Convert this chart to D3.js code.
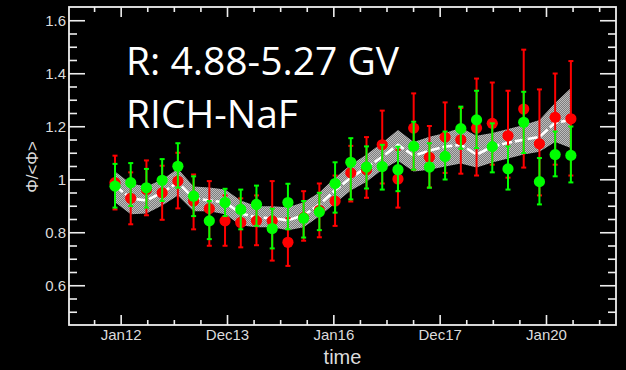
<!DOCTYPE html>
<html>
<head>
<meta charset="utf-8">
<script src="https://cdn.jsdelivr.net/npm/d3@7"></script>
<style>
  html, body { margin: 0; padding: 0; background: #000; }
  svg { display: block; }
  .tick text { fill: #dcdcdc; font-family: 'Liberation Sans', Arial, sans-serif; font-size: 15px; }
  .tick line { stroke: #eeeeee; stroke-width: 1.6; }
</style>
</head>
<body>
<svg id="chart" width="626" height="370"></svg>
<script>
// time bins (4 Bartels rotations each)
const dates = [
  '2011-11-23', '2012-03-10', '2012-06-26', '2012-10-12', '2013-01-28', '2013-05-16',
  '2013-09-01', '2013-12-18', '2014-04-05', '2014-07-22', '2014-11-07', '2015-02-23',
  '2015-06-11', '2015-09-27', '2016-01-13', '2016-04-30', '2016-08-16', '2016-12-02',
  '2017-03-20', '2017-07-06', '2017-10-22', '2018-02-07', '2018-05-26', '2018-09-11',
  '2018-12-28', '2019-04-15', '2019-08-01', '2019-11-17', '2020-03-04', '2020-06-20'
];

// red series
const redVal = [0.987, 0.928, 0.961, 0.949, 0.993, 0.918, 0.889, 0.843, 0.837, 0.843, 0.843, 0.762,
  0.855, 0.883, 0.918, 1.024, 1.036, 1.130, 1.001, 1.193, 1.083, 1.159, 1.149, 1.193,
  1.211, 1.164, 1.265, 1.134, 1.234, 1.228];
const redHi = [1.089, 1.026, 1.071, 1.051, 1.100, 1.018, 0.993, 0.939, 0.928, 0.939, 0.993, 0.853,
  0.955, 0.984, 1.014, 1.126, 1.159, 1.259, 1.111, 1.324, 1.201, 1.290, 1.269, 1.380,
  1.365, 1.334, 1.489, 1.339, 1.399, 1.446];
const redLo = [0.886, 0.830, 0.864, 0.847, 0.890, 0.811, 0.749, 0.749, 0.743, 0.751, 0.693, 0.673,
  0.768, 0.781, 0.824, 0.916, 0.930, 0.984, 0.893, 1.036, 0.969, 1.024, 1.021, 1.014,
  1.055, 1.006, 1.044, 0.939, 1.055, 1.014];

// green series
const greenVal = [0.974, 0.987, 0.968, 0.996, 1.049, 0.936, 0.843, 0.912, 0.886, 0.905, 0.814, 0.912,
  0.853, 0.877, 0.984, 1.064, 1.046, 1.048, 1.036, 1.124, 1.046, 1.086, 1.191, 1.224,
  1.123, 1.039, 1.215, 0.991, 1.093, 1.090];
const greenHi = [1.058, 1.061, 1.039, 1.076, 1.136, 1.011, 0.918, 0.964, 0.961, 0.976, 0.889, 0.983,
  0.918, 0.949, 1.064, 1.155, 1.124, 1.130, 1.123, 1.217, 1.136, 1.180, 1.274, 1.334,
  1.211, 1.124, 1.330, 1.080, 1.180, 1.199];
const greenLo = [0.893, 0.899, 0.893, 0.918, 0.968, 0.861, 0.774, 0.861, 0.811, 0.824, 0.739, 0.811,
  0.780, 0.808, 0.874, 0.924, 0.965, 0.961, 0.955, 1.036, 0.968, 0.999, 1.115, 1.118,
  1.026, 0.961, 1.099, 0.905, 1.011, 0.988];

// model curve with its uncertainty band
const modelVal = [0.976, 0.928, 0.920, 0.950, 0.988, 0.928, 0.920, 0.913, 0.871, 0.856, 0.853, 0.845,
  0.864, 0.905, 0.958, 1.006, 1.044, 1.085, 1.130, 1.089, 1.108, 1.123, 1.130, 1.093,
  1.123, 1.138, 1.149, 1.160, 1.213, 1.224];
const modelHi = [1.029, 0.984, 0.973, 0.999, 1.040, 0.973, 0.969, 0.961, 0.920, 0.898, 0.898, 0.894,
  0.913, 0.950, 1.006, 1.055, 1.093, 1.138, 1.186, 1.141, 1.160, 1.175, 1.194, 1.164,
  1.175, 1.190, 1.205, 1.224, 1.288, 1.344];
const modelLo = [0.913, 0.868, 0.871, 0.901, 0.939, 0.879, 0.879, 0.868, 0.826, 0.819, 0.819, 0.808,
  0.819, 0.860, 0.909, 0.958, 0.991, 1.036, 1.070, 1.029, 1.036, 1.048, 1.059, 1.044,
  1.063, 1.078, 1.093, 1.104, 1.141, 1.118];

const xTickDates = ['2012-01-01T00', '2013-12-31T12', '2016-01-01T00', '2017-12-31T12', '2020-01-01T00'];
const xTickLabels = ['Jan12', 'Dec13', 'Jan16', 'Dec17', 'Jan20'];
const yMajorTicks = [0.6, 0.8, 1, 1.2, 1.4, 1.6];
const yTickLabels = ['0.6', '0.8', '1', '1.2', '1.4', '1.6'];

const width = 626;
const height = 370;
const margin = { top: 7, right: 10, bottom: 45, left: 69 };
const svg = d3.select('#chart');

const parseDay = d3.utcParse('%Y-%m-%d');
const parseHour = d3.utcParse('%Y-%m-%dT%H');

const x = d3.scaleUtc()
  .domain([parseDay('2011-01-11'), parseDay('2021-04-26')])
  .range([margin.left, width - margin.right]);
const y = d3.scaleLinear()
  .domain([0.45, 1.65])
  .range([height - margin.bottom, margin.top]);

const rows = dates.map((d, i) => ({
  date: parseDay(d),
  red: redVal[i], redHi: redHi[i], redLo: redLo[i],
  green: greenVal[i], greenHi: greenHi[i], greenLo: greenLo[i],
  model: modelVal[i], modelHi: modelHi[i], modelLo: modelLo[i]
}));

// dithered grey fill for the band
const defs = svg.append('defs');
const pat = defs.append('pattern')
  .attr('id', 'dither')
  .attr('patternUnits', 'userSpaceOnUse')
  .attr('width', 2).attr('height', 2);
pat.append('rect').attr('width', 2).attr('height', 2).attr('fill', '#7e7e7e');
pat.append('rect').attr('width', 1).attr('height', 1).attr('fill', '#bdbdbd');
pat.append('rect').attr('x', 1).attr('y', 1).attr('width', 1).attr('height', 1).attr('fill', '#bdbdbd');

const plot = svg.append('g');

plot.append('path')
  .datum(rows)
  .attr('fill', 'url(#dither)')
  .attr('d', d3.area()
    .x(d => x(d.date))
    .y0(d => y(d.modelLo))
    .y1(d => y(d.modelHi)));

plot.append('path')
  .datum(rows)
  .attr('fill', 'none')
  .attr('stroke', '#ffffff')
  .attr('stroke-width', 2.6)
  .attr('stroke-dasharray', '10 3')
  .attr('d', d3.line().x(d => x(d.date)).y(d => y(d.model)));

function drawSeries(key, color) {
  const g = plot.append('g');
  const pts = g.selectAll('g').data(rows).join('g');
  pts.append('line')
    .attr('x1', d => x(d.date)).attr('x2', d => x(d.date))
    .attr('y1', d => y(d[key + 'Lo'])).attr('y2', d => y(d[key + 'Hi']))
    .attr('stroke', color).attr('stroke-width', 2);
  ['Lo', 'Hi'].forEach(end => {
    pts.append('line')
      .attr('x1', d => x(d.date) - 2.5).attr('x2', d => x(d.date) + 2.5)
      .attr('y1', d => y(d[key + end])).attr('y2', d => y(d[key + end]))
      .attr('stroke', color).attr('stroke-width', 2);
  });
  pts.append('circle')
    .attr('cx', d => x(d.date))
    .attr('cy', d => y(d[key]))
    .attr('r', 5.6)
    .attr('fill', color);
}
drawSeries('red', '#ff0000');
drawSeries('green', '#00ff00');

// axes, ROOT style: ticks inside the frame, mirrored on top and right
const xMajor = xTickDates.map(s => parseHour(s));
const step = (xMajor[1] - xMajor[0]) / 4;
const [xStart, xEnd] = x.domain();
const xMinor = d3.range(-8, 40).map(k => new Date(+xMajor[0] + k * step))
  .filter(d => d > xStart && d < xEnd && !xMajor.some(m => Math.abs(m - d) < 1000));
const yMinor = d3.range(10, 33).map(k => k * 0.05)
  .filter(v => !yMajorTicks.some(m => Math.abs(m - v) < 1e-6));

const frameBottom = y.range()[0];
const frameTop = y.range()[1];
const frameLeft = x.range()[0];
const frameRight = x.range()[1];

function axisGroup(axis, tf) {
  const g = svg.append('g').attr('transform', tf).call(axis);
  g.select('.domain').remove();
  return g;
}

axisGroup(d3.axisBottom(x).tickValues(xMajor).tickSize(-10).tickPadding(4)
  .tickFormat((d, i) => xTickLabels[i]), `translate(0,${frameBottom})`);
axisGroup(d3.axisBottom(x).tickValues(xMinor).tickSize(-5).tickFormat(''), `translate(0,${frameBottom})`);
axisGroup(d3.axisTop(x).tickValues(xMajor).tickSize(-10).tickFormat(''), `translate(0,${frameTop})`);
axisGroup(d3.axisTop(x).tickValues(xMinor).tickSize(-5).tickFormat(''), `translate(0,${frameTop})`);

axisGroup(d3.axisLeft(y).tickValues(yMajorTicks).tickSize(-16).tickPadding(3)
  .tickFormat((d, i) => yTickLabels[i]), `translate(${frameLeft},0)`);
axisGroup(d3.axisLeft(y).tickValues(yMinor).tickSize(-8).tickFormat(''), `translate(${frameLeft},0)`);
axisGroup(d3.axisRight(y).tickValues(yMajorTicks).tickSize(-16).tickFormat(''), `translate(${frameRight},0)`);
axisGroup(d3.axisRight(y).tickValues(yMinor).tickSize(-8).tickFormat(''), `translate(${frameRight},0)`);

svg.append('rect')
  .attr('x', frameLeft).attr('y', frameTop)
  .attr('width', frameRight - frameLeft).attr('height', frameBottom - frameTop)
  .attr('fill', 'none')
  .attr('stroke', '#eeeeee')
  .attr('stroke-width', 1.8);

// titles
svg.append('text')
  .attr('x', (frameLeft + frameRight) / 2)
  .attr('y', 364)
  .attr('text-anchor', 'middle')
  .attr('fill', '#dcdcdc')
  .style('font-family', "'Liberation Sans', Arial, sans-serif")
  .style('font-size', '20px')
  .text('time');

svg.append('text')
  .attr('transform', 'translate(32,167) rotate(-90)')
  .attr('text-anchor', 'middle')
  .attr('dominant-baseline', 'central')
  .attr('fill', '#dcdcdc')
  .style('font-family', "'Liberation Sans', Arial, sans-serif")
  .style('font-size', '17px')
  .text('Φ/<Φ>');

const label = svg.append('g')
  .attr('fill', '#ffffff')
  .style('font-family', "'Open Sans', 'Noto Sans', sans-serif")
  .style('font-size', '39px');
label.append('text').attr('x', 126).attr('y', 75).text('R: 4.88-5.27 GV');
label.append('text').attr('x', 126).attr('y', 128).text('RICH-NaF');
</script>
</body>
</html>
